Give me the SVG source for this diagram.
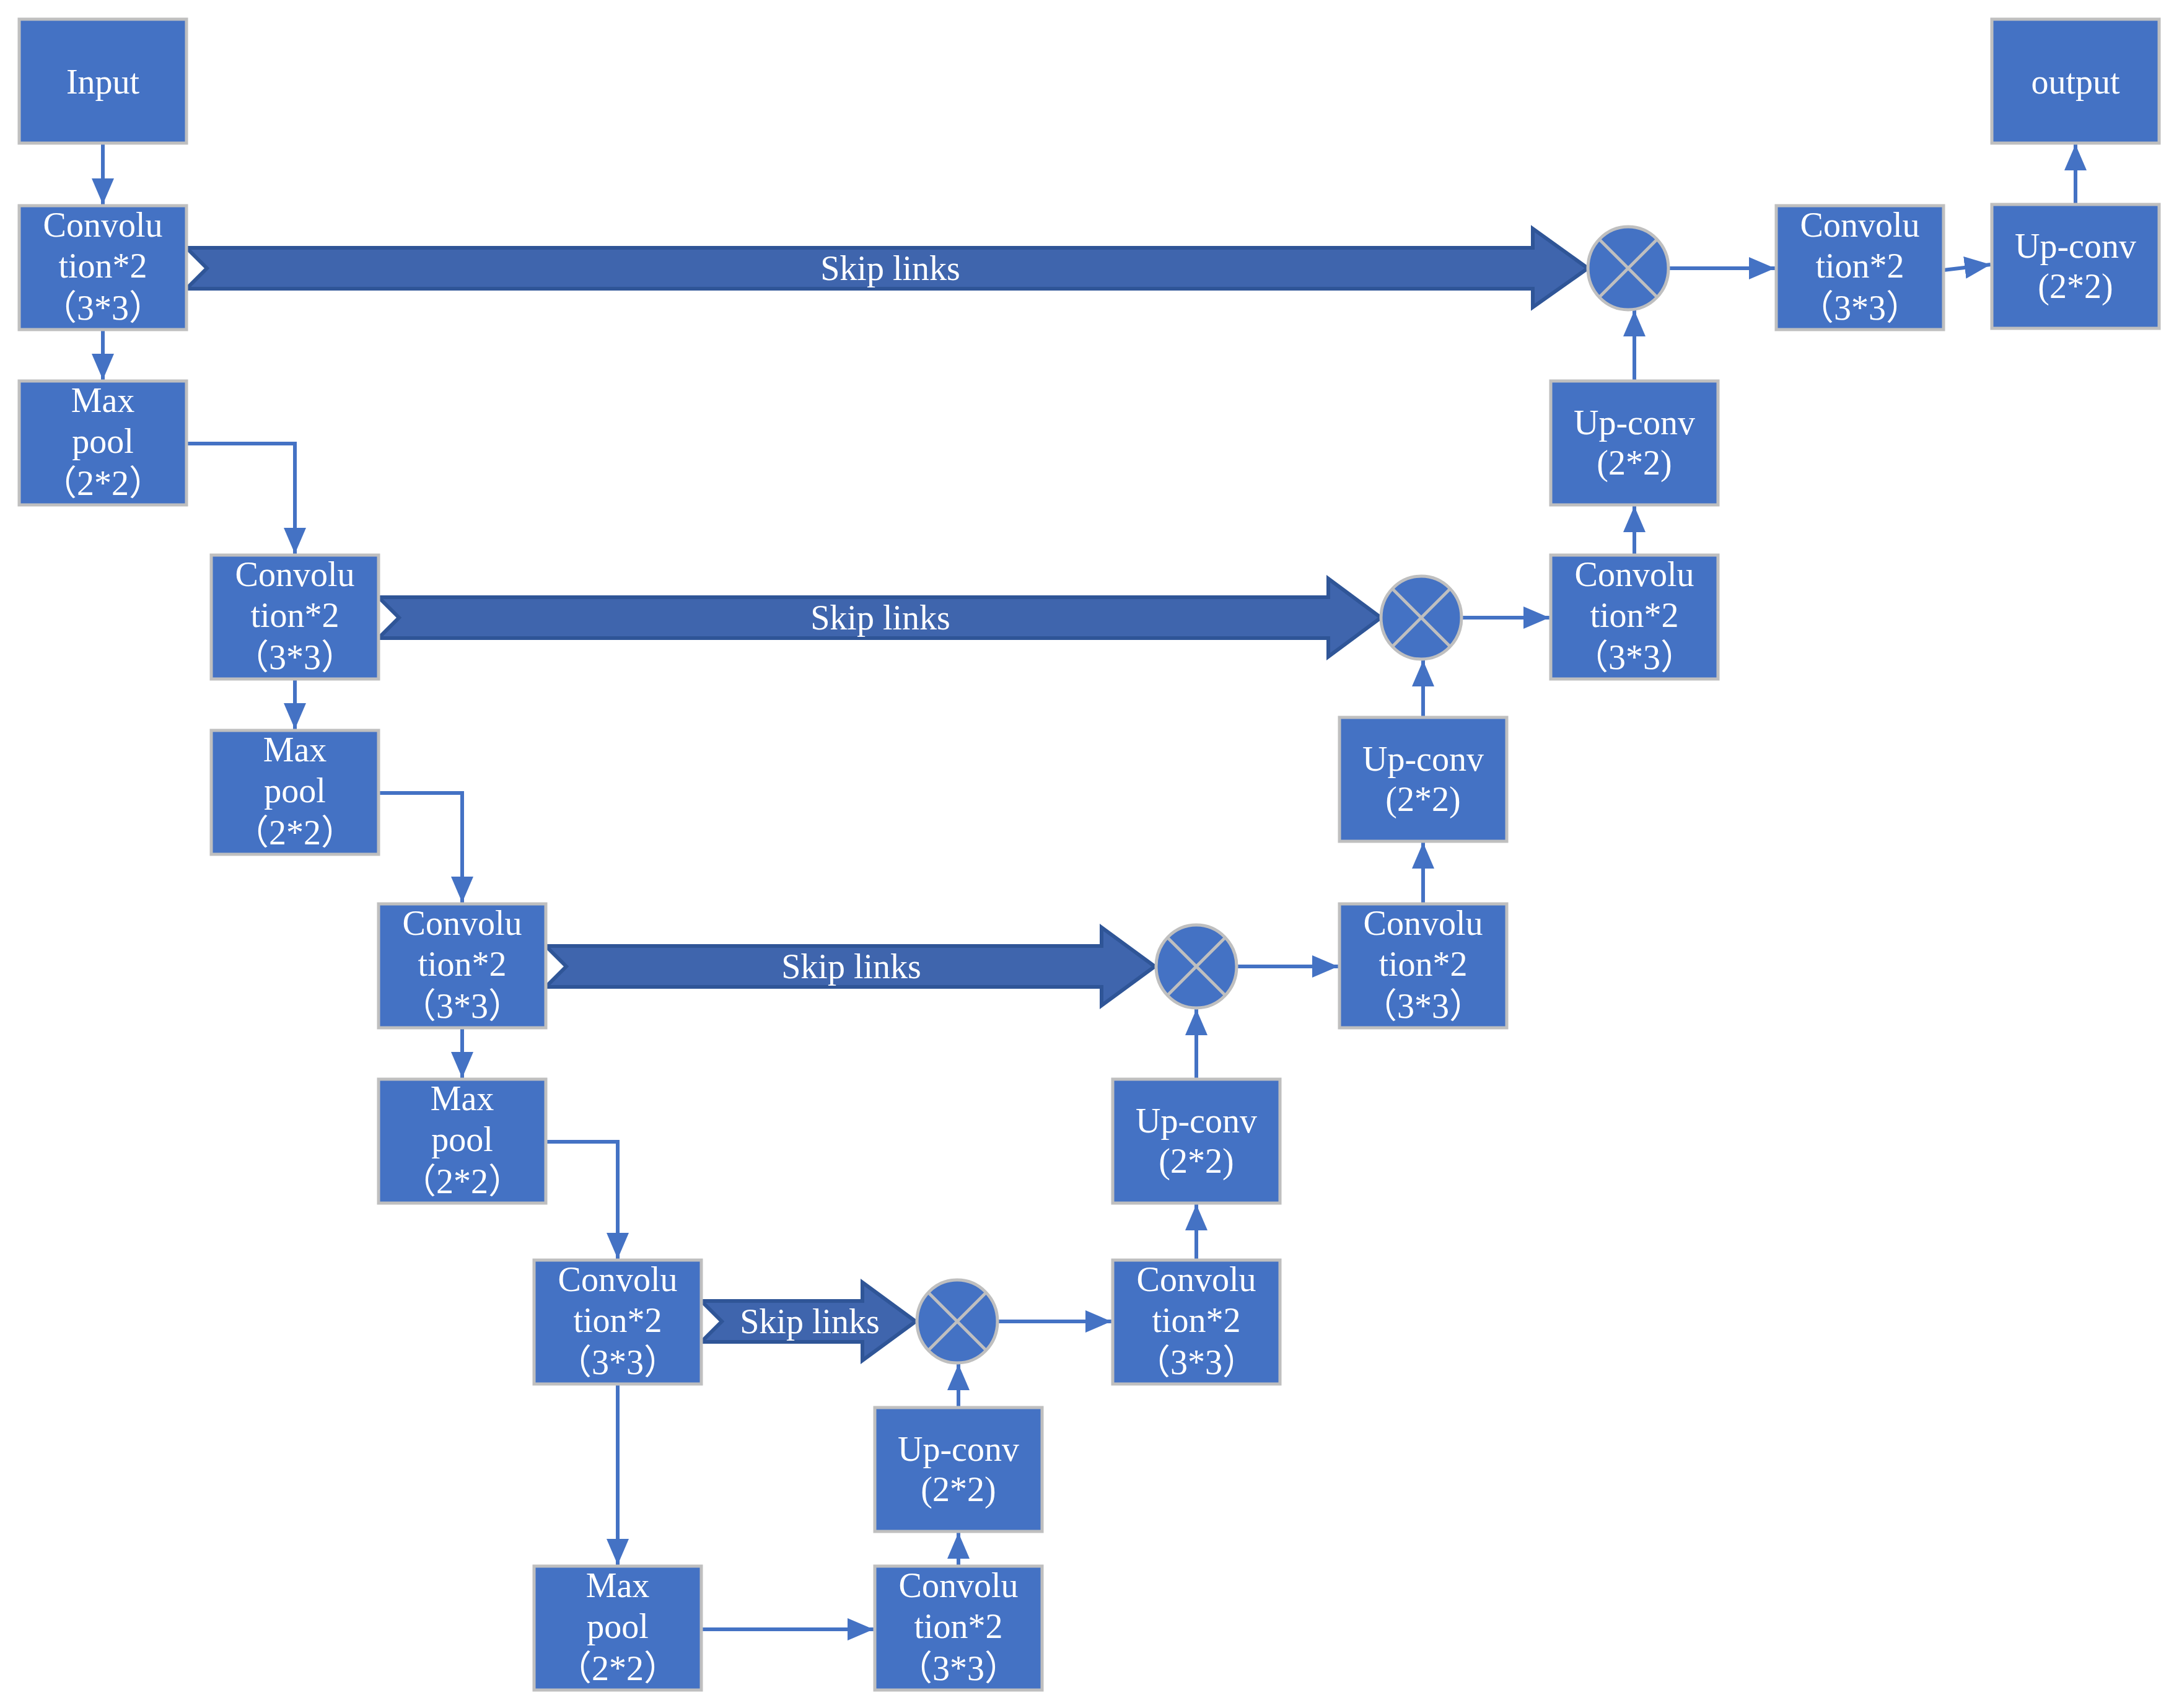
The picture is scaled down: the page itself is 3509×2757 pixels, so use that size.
<svg xmlns="http://www.w3.org/2000/svg" width="3509" height="2757" viewBox="0 0 3509 2757">
<defs>
<style>
.b{fill:#4472C4;stroke:#BFBFBF;stroke-width:5}
.t{font-family:"Liberation Serif","Noto Sans CJK SC",serif;font-size:56px;fill:#fff;text-anchor:middle}
.c{fill:none;stroke:#4472C4;stroke-width:6}
.s{fill:#3F65AD;stroke:#2F5597;stroke-width:6}
.x{stroke:#BFBFBF;stroke-width:5}
</style>
<marker id="a" markerUnits="userSpaceOnUse" markerWidth="44" markerHeight="36" refX="42" refY="18" orient="auto"><path d="M0,0 L42,18 L0,36 Z" fill="#4472C4"/></marker>
</defs>
<rect width="3509" height="2757" fill="#fff"/>
<g id="skips">
<polygon class="s" points="301,400 2474,400 2474,369 2563,433 2474,496 2474,466 301,466 334,433"/>
<text class="t" x="1437" y="452">Skip links</text>
<polygon class="s" points="611,964 2144,964 2144,934 2229,997 2144,1060 2144,1030 611,1030 644,997"/>
<text class="t" x="1421" y="1016">Skip links</text>
<polygon class="s" points="881,1527 1778,1527 1778,1497 1864,1560 1778,1623 1778,1593 881,1593 914,1560"/>
<text class="t" x="1374" y="1579">Skip links</text>
<polygon class="s" points="1132,2100 1392,2100 1392,2070 1478,2133 1392,2196 1392,2166 1132,2166 1165,2133"/>
<text class="t" x="1307" y="2152">Skip links</text>
</g>
<g id="connectors">
<path class="c" marker-end="url(#a)" d="M166,233 V330"/>
<path class="c" marker-end="url(#a)" d="M166,533 V613"/>
<path class="c" marker-end="url(#a)" d="M301,716 H476 V894"/>
<path class="c" marker-end="url(#a)" d="M476,1096 V1177"/>
<path class="c" marker-end="url(#a)" d="M611,1280 H746 V1457"/>
<path class="c" marker-end="url(#a)" d="M746,1659 V1740"/>
<path class="c" marker-end="url(#a)" d="M881,1843 H997 V2032"/>
<path class="c" marker-end="url(#a)" d="M997,2234 V2526"/>
<path class="c" marker-end="url(#a)" d="M1132,2630 H1410"/>
<path class="c" marker-end="url(#a)" d="M1547,2528 V2474"/>
<path class="c" marker-end="url(#a)" d="M1547,2272 V2202"/>
<path class="c" marker-end="url(#a)" d="M1610,2133 H1794"/>
<path class="c" marker-end="url(#a)" d="M1931,2034 V1944"/>
<path class="c" marker-end="url(#a)" d="M1931,1742 V1629"/>
<path class="c" marker-end="url(#a)" d="M1996,1560 H2160"/>
<path class="c" marker-end="url(#a)" d="M2297,1459 V1360"/>
<path class="c" marker-end="url(#a)" d="M2297,1158 V1066"/>
<path class="c" marker-end="url(#a)" d="M2359,997 H2501"/>
<path class="c" marker-end="url(#a)" d="M2638,896 V817"/>
<path class="c" marker-end="url(#a)" d="M2638,615 V501"/>
<path class="c" marker-end="url(#a)" d="M2693,433 H2865"/>
<path class="c" marker-end="url(#a)" d="M3137,436 L3213,427"/>
<path class="c" marker-end="url(#a)" d="M3350,330 V233"/>
</g>
<g id="input"><rect class="b" x="31" y="31" width="270" height="200"/><text class="t" x="166" y="151">Input</text></g>
<g id="conv1"><rect class="b" x="31" y="332" width="270" height="200"/><text class="t" x="166" y="382">Convolu</text><text class="t" x="166" y="448">tion*2</text><text class="t" x="166" y="516">（3*3）</text></g>
<g id="pool1"><rect class="b" x="31" y="615" width="270" height="200"/><text class="t" x="166" y="665">Max</text><text class="t" x="166" y="731">pool</text><text class="t" x="166" y="799">（2*2）</text></g>
<g id="conv2"><rect class="b" x="341" y="896" width="270" height="200"/><text class="t" x="476" y="946">Convolu</text><text class="t" x="476" y="1012">tion*2</text><text class="t" x="476" y="1080">（3*3）</text></g>
<g id="pool2"><rect class="b" x="341" y="1179" width="270" height="200"/><text class="t" x="476" y="1229">Max</text><text class="t" x="476" y="1295">pool</text><text class="t" x="476" y="1363">（2*2）</text></g>
<g id="conv3"><rect class="b" x="611" y="1459" width="270" height="200"/><text class="t" x="746" y="1509">Convolu</text><text class="t" x="746" y="1575">tion*2</text><text class="t" x="746" y="1643">（3*3）</text></g>
<g id="pool3"><rect class="b" x="611" y="1742" width="270" height="200"/><text class="t" x="746" y="1792">Max</text><text class="t" x="746" y="1858">pool</text><text class="t" x="746" y="1926">（2*2）</text></g>
<g id="conv4"><rect class="b" x="862" y="2034" width="270" height="200"/><text class="t" x="997" y="2084">Convolu</text><text class="t" x="997" y="2150">tion*2</text><text class="t" x="997" y="2218">（3*3）</text></g>
<g id="pool4"><rect class="b" x="862" y="2528" width="270" height="200"/><text class="t" x="997" y="2578">Max</text><text class="t" x="997" y="2644">pool</text><text class="t" x="997" y="2712">（2*2）</text></g>
<g id="conv5"><rect class="b" x="1412" y="2528" width="270" height="200"/><text class="t" x="1547" y="2578">Convolu</text><text class="t" x="1547" y="2644">tion*2</text><text class="t" x="1547" y="2712">（3*3）</text></g>
<g id="up4"><rect class="b" x="1412" y="2272" width="270" height="200"/><text class="t" x="1547" y="2358">Up-conv</text><text class="t" x="1547" y="2423">(2*2)</text></g>
<g id="cat4"><ellipse class="b" cx="1545" cy="2133" rx="65" ry="67"/><path class="x" d="M1499,2087 L1591,2179 M1591,2087 L1499,2179"/></g>
<g id="conv6"><rect class="b" x="1796" y="2034" width="270" height="200"/><text class="t" x="1931" y="2084">Convolu</text><text class="t" x="1931" y="2150">tion*2</text><text class="t" x="1931" y="2218">（3*3）</text></g>
<g id="up3"><rect class="b" x="1796" y="1742" width="270" height="200"/><text class="t" x="1931" y="1828">Up-conv</text><text class="t" x="1931" y="1893">(2*2)</text></g>
<g id="cat3"><ellipse class="b" cx="1931" cy="1560" rx="65" ry="67"/><path class="x" d="M1885,1514 L1977,1606 M1977,1514 L1885,1606"/></g>
<g id="conv7"><rect class="b" x="2162" y="1459" width="270" height="200"/><text class="t" x="2297" y="1509">Convolu</text><text class="t" x="2297" y="1575">tion*2</text><text class="t" x="2297" y="1643">（3*3）</text></g>
<g id="up2"><rect class="b" x="2162" y="1158" width="270" height="200"/><text class="t" x="2297" y="1244">Up-conv</text><text class="t" x="2297" y="1309">(2*2)</text></g>
<g id="cat2"><ellipse class="b" cx="2294" cy="997" rx="65" ry="67"/><path class="x" d="M2248,951 L2340,1043 M2340,951 L2248,1043"/></g>
<g id="conv8"><rect class="b" x="2503" y="896" width="270" height="200"/><text class="t" x="2638" y="946">Convolu</text><text class="t" x="2638" y="1012">tion*2</text><text class="t" x="2638" y="1080">（3*3）</text></g>
<g id="up1"><rect class="b" x="2503" y="615" width="270" height="200"/><text class="t" x="2638" y="701">Up-conv</text><text class="t" x="2638" y="766">(2*2)</text></g>
<g id="cat1"><ellipse class="b" cx="2628" cy="433" rx="65" ry="67"/><path class="x" d="M2582,387 L2674,479 M2674,387 L2582,479"/></g>
<g id="conv9"><rect class="b" x="2867" y="332" width="270" height="200"/><text class="t" x="3002" y="382">Convolu</text><text class="t" x="3002" y="448">tion*2</text><text class="t" x="3002" y="516">（3*3）</text></g>
<g id="up0"><rect class="b" x="3215" y="330" width="270" height="200"/><text class="t" x="3350" y="416">Up-conv</text><text class="t" x="3350" y="481">(2*2)</text></g>
<g id="output"><rect class="b" x="3215" y="31" width="270" height="200"/><text class="t" x="3350" y="151">output</text></g>
</svg>
